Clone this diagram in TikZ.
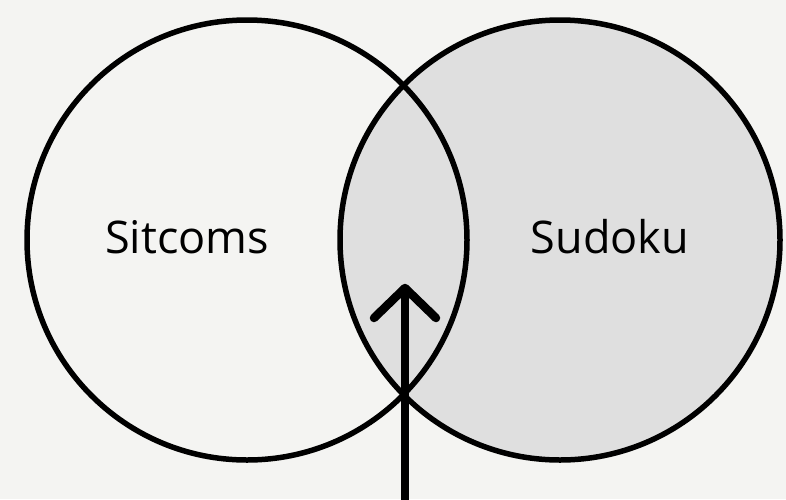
\documentclass[tikz,border=0pt]{standalone}
\usepackage{fontspec}
\setmainfont{Open Sans}
\begin{document}
\begin{tikzpicture}[x=1pt,y=-1pt,
  circ/.style={line width=5.5pt},
  lbl/.style={font=\fontsize{45}{50}\selectfont, text=black, inner sep=0pt},
  arr/.style={line width=8.5pt, line cap=round, line join=round}]
\fill[fill={rgb,255:red,244;green,244;blue,242}] (0,0) rectangle (786,499);
\useasboundingbox (0,0) rectangle (786,499);
\coordinate (cl) at (247,240);
\coordinate (cr) at (560,240);
\fill[fill={rgb,255:red,223;green,223;blue,223}] (cr) circle (220);
\draw[circ] (cl) circle (220);
\draw[circ] (cr) circle (220);
\node[lbl] (sit) at (187,237) {Sitcoms};
\node[lbl] (sud) at (610,237) {Sudoku};
\coordinate (base) at (405,510);
\coordinate (tip) at (405,288);
\coordinate (al) at (374,318);
\coordinate (ar) at (436,318);
\draw[arr, line cap=butt] (base) -- (tip);
\draw[arr] (al) -- (tip) -- (ar);
\end{tikzpicture}
\end{document}
